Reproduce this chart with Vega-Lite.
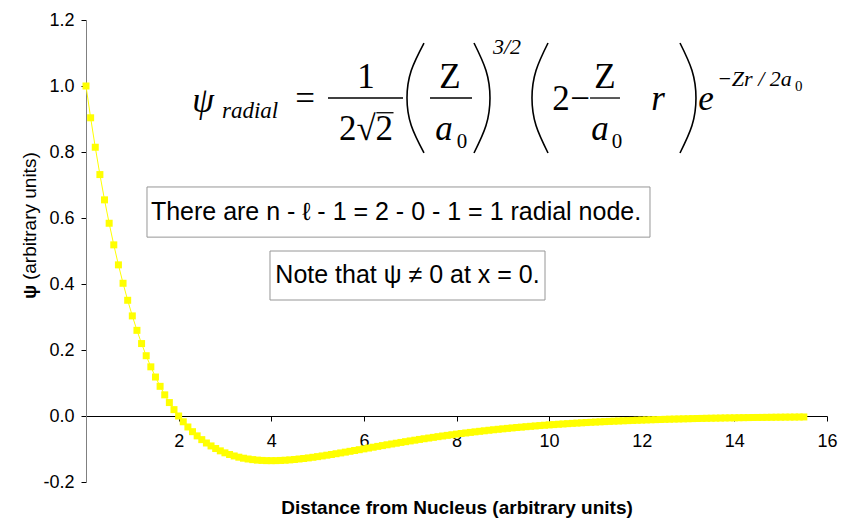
{
  "$schema": "https://vega.github.io/schema/vega-lite/v6.json",
  "width": 741,
  "height": 462,
  "autosize": {"type": "none"},
  "padding": {"left": 86, "top": 20, "right": 15, "bottom": 43},
  "background": "white",
  "config": {
    "view": {"stroke": null},
    "axis": {"labelFont": "Liberation Sans", "titleFont": "Liberation Sans", "labelColor": "#000", "titleColor": "#000", "grid": false}
  },
  "datasets": {
    "curve": [
      {"r":0,"psi":1},{"r":0.1,"psi":0.9037},{"r":0.2,"psi":0.8144},{"r":0.3,"psi":0.7316},{"r":0.4,"psi":0.655},{"r":0.5,"psi":0.5841},{"r":0.6,"psi":0.5186},{"r":0.7,"psi":0.458},{"r":0.8,"psi":0.4022},{"r":0.9,"psi":0.3507},
      {"r":1,"psi":0.3033},{"r":1.1,"psi":0.2596},{"r":1.2,"psi":0.2195},{"r":1.3,"psi":0.1827},{"r":1.4,"psi":0.149},{"r":1.5,"psi":0.1181},{"r":1.6,"psi":0.0899},{"r":1.7,"psi":0.0641},{"r":1.8,"psi":0.0407},{"r":1.9,"psi":0.0193},
      {"r":2,"psi":0},{"r":2.1,"psi":-0.0175},{"r":2.2,"psi":-0.0333},{"r":2.3,"psi":-0.0475},{"r":2.4,"psi":-0.0602},{"r":2.5,"psi":-0.0716},{"r":2.6,"psi":-0.0818},{"r":2.7,"psi":-0.0907},{"r":2.8,"psi":-0.0986},{"r":2.9,"psi":-0.1056},
      {"r":3,"psi":-0.1116},{"r":3.1,"psi":-0.1167},{"r":3.2,"psi":-0.1211},{"r":3.3,"psi":-0.1248},{"r":3.4,"psi":-0.1279},{"r":3.5,"psi":-0.1303},{"r":3.6,"psi":-0.1322},{"r":3.7,"psi":-0.1337},{"r":3.8,"psi":-0.1346},{"r":3.9,"psi":-0.1352},
      {"r":4,"psi":-0.1353},{"r":4.1,"psi":-0.1352},{"r":4.2,"psi":-0.1347},{"r":4.3,"psi":-0.134},{"r":4.4,"psi":-0.133},{"r":4.5,"psi":-0.1318},{"r":4.6,"psi":-0.1303},{"r":4.7,"psi":-0.1288},{"r":4.8,"psi":-0.127},{"r":4.9,"psi":-0.1251},
      {"r":5,"psi":-0.1231},{"r":5.1,"psi":-0.121},{"r":5.2,"psi":-0.1188},{"r":5.3,"psi":-0.1166},{"r":5.4,"psi":-0.1143},{"r":5.5,"psi":-0.1119},{"r":5.6,"psi":-0.1095},{"r":5.7,"psi":-0.107},{"r":5.8,"psi":-0.1045},{"r":5.9,"psi":-0.1021},
      {"r":6,"psi":-0.0996},{"r":6.1,"psi":-0.0971},{"r":6.2,"psi":-0.0946},{"r":6.3,"psi":-0.0921},{"r":6.4,"psi":-0.0897},{"r":6.5,"psi":-0.0872},{"r":6.6,"psi":-0.0848},{"r":6.7,"psi":-0.0825},{"r":6.8,"psi":-0.0801},{"r":6.9,"psi":-0.0778},
      {"r":7,"psi":-0.0755},{"r":7.1,"psi":-0.0733},{"r":7.2,"psi":-0.071},{"r":7.3,"psi":-0.0689},{"r":7.4,"psi":-0.0668},{"r":7.5,"psi":-0.0647},{"r":7.6,"psi":-0.0626},{"r":7.7,"psi":-0.0606},{"r":7.8,"psi":-0.0587},{"r":7.9,"psi":-0.0568},
      {"r":8,"psi":-0.0549},{"r":8.1,"psi":-0.0531},{"r":8.2,"psi":-0.0514},{"r":8.3,"psi":-0.0497},{"r":8.4,"psi":-0.048},{"r":8.5,"psi":-0.0464},{"r":8.6,"psi":-0.0448},{"r":8.7,"psi":-0.0432},{"r":8.8,"psi":-0.0417},{"r":8.9,"psi":-0.0403},
      {"r":9,"psi":-0.0389},{"r":9.1,"psi":-0.0375},{"r":9.2,"psi":-0.0362},{"r":9.3,"psi":-0.0349},{"r":9.4,"psi":-0.0337},{"r":9.5,"psi":-0.0324},{"r":9.6,"psi":-0.0313},{"r":9.7,"psi":-0.0301},{"r":9.8,"psi":-0.029},{"r":9.9,"psi":-0.028},
      {"r":10,"psi":-0.027},{"r":10.1,"psi":-0.026},{"r":10.2,"psi":-0.025},{"r":10.3,"psi":-0.0241},{"r":10.4,"psi":-0.0232},{"r":10.5,"psi":-0.0223},{"r":10.6,"psi":-0.0215},{"r":10.7,"psi":-0.0207},{"r":10.8,"psi":-0.0199},{"r":10.9,"psi":-0.0191},
      {"r":11,"psi":-0.0184},{"r":11.1,"psi":-0.0177},{"r":11.2,"psi":-0.017},{"r":11.3,"psi":-0.0164},{"r":11.4,"psi":-0.0157},{"r":11.5,"psi":-0.0151},{"r":11.6,"psi":-0.0145},{"r":11.7,"psi":-0.014},{"r":11.8,"psi":-0.0134},{"r":11.9,"psi":-0.0129},
      {"r":12,"psi":-0.0124},{"r":12.1,"psi":-0.0119},{"r":12.2,"psi":-0.0114},{"r":12.3,"psi":-0.011},{"r":12.4,"psi":-0.0106},{"r":12.5,"psi":-0.0101},{"r":12.6,"psi":-0.0097},{"r":12.7,"psi":-0.0093},{"r":12.8,"psi":-0.009},{"r":12.9,"psi":-0.0086},
      {"r":13,"psi":-0.0083},{"r":13.1,"psi":-0.0079},{"r":13.2,"psi":-0.0076},{"r":13.3,"psi":-0.0073},{"r":13.4,"psi":-0.007},{"r":13.5,"psi":-0.0067},{"r":13.6,"psi":-0.0065},{"r":13.7,"psi":-0.0062},{"r":13.8,"psi":-0.0059},{"r":13.9,"psi":-0.0057},
      {"r":14,"psi":-0.0055},{"r":14.1,"psi":-0.0052},{"r":14.2,"psi":-0.005},{"r":14.3,"psi":-0.0048},{"r":14.4,"psi":-0.0046},{"r":14.5,"psi":-0.0044},{"r":14.6,"psi":-0.0043},{"r":14.7,"psi":-0.0041},{"r":14.8,"psi":-0.0039},{"r":14.9,"psi":-0.0037},
      {"r":15,"psi":-0.0036},{"r":15.1,"psi":-0.0034},{"r":15.2,"psi":-0.0033},{"r":15.3,"psi":-0.0032},{"r":15.4,"psi":-0.003},{"r":15.5,"psi":-0.0029}
    ],
    "boxes": [
      {"x1": 1.317, "x2": 12.178, "y1": 0.694, "y2": 0.542},
      {"x1": 3.973, "x2": 9.911, "y1": 0.5, "y2": 0.3515}
    ],
    "notes": [
      {"t": "There are n - ℓ - 1 = 2 - 0 - 1 = 1 radial node.", "x": 6.694, "y": 0.618},
      {"t": "Note that ψ ≠ 0 at x = 0.", "x": 6.942, "y": 0.4258}
    ],
    "eqRoman": [
      {"t": "=", "x": 4.729, "y": 0.927},
      {"t": "1", "x": 6.046, "y": 0.994},
      {"t": "2√2", "x": 6.046, "y": 0.836},
      {"t": "Z", "x": 7.86, "y": 0.994},
      {"t": "2", "x": 10.256, "y": 0.927},
      {"t": "−", "x": 10.667, "y": 0.927},
      {"t": "Z", "x": 11.206, "y": 0.994}
    ],
    "eqItalic": [
      {"t": "ψ", "x": 2.53, "y": 0.921},
      {"t": "a", "x": 7.73, "y": 0.836},
      {"t": "a", "x": 11.099, "y": 0.836},
      {"t": "r", "x": 12.351, "y": 0.927},
      {"t": "e", "x": 13.387, "y": 0.927}
    ],
    "eqSub": [
      {"t": "0", "x": 8.119, "y": 0.812},
      {"t": "0", "x": 11.466, "y": 0.812}
    ],
    "eqSubscript": [
      {"t": "radial", "x": 2.937, "y": 0.903}
    ],
    "eqSuper": [
      {"t": "3/2", "x": 8.788, "y": 1.097},
      {"t": "−Zr / 2a", "x": 13.625, "y": 1.0}
    ],
    "eqTiny": [
      {"t": "0", "x": 15.31, "y": 0.985}
    ],
    "bars": [
      {"x1": 5.225, "x2": 6.845, "y": 0.9636},
      {"x1": 7.428, "x2": 8.335, "y": 0.9636},
      {"x1": 10.883, "x2": 11.53, "y": 0.9636},
      {"x1": 6.27, "x2": 6.64, "y": 0.919}
    ],
    "parens": [
      {"id": 1, "k": 0, "x": 7.298, "y": 1.1303}, {"id": 1, "k": 1, "x": 7.023, "y": 1.047}, {"id": 1, "k": 2, "x": 6.931, "y": 0.9636}, {"id": 1, "k": 3, "x": 7.023, "y": 0.88}, {"id": 1, "k": 4, "x": 7.298, "y": 0.797},
      {"id": 2, "k": 0, "x": 8.378, "y": 1.1303}, {"id": 2, "k": 1, "x": 8.637, "y": 1.047}, {"id": 2, "k": 2, "x": 8.723, "y": 0.9636}, {"id": 2, "k": 3, "x": 8.637, "y": 0.88}, {"id": 2, "k": 4, "x": 8.378, "y": 0.797},
      {"id": 3, "k": 0, "x": 9.976, "y": 1.1303}, {"id": 3, "k": 1, "x": 9.717, "y": 1.047}, {"id": 3, "k": 2, "x": 9.63, "y": 0.9636}, {"id": 3, "k": 3, "x": 9.717, "y": 0.88}, {"id": 3, "k": 4, "x": 9.976, "y": 0.797},
      {"id": 4, "k": 0, "x": 12.826, "y": 1.1303}, {"id": 4, "k": 1, "x": 13.085, "y": 1.047}, {"id": 4, "k": 2, "x": 13.171, "y": 0.9636}, {"id": 4, "k": 3, "x": 13.085, "y": 0.88}, {"id": 4, "k": 4, "x": 12.826, "y": 0.797}
    ],
    "yTitle": [
      {"psi": "ψ", "rest": "(arbitrary units)", "x": -1.209, "y1": 0.376, "y2": 0.412}
    ]
  },
  "layer": [
    {
      "data": {"name": "curve"},
      "mark": {"type": "line", "color": "#ffff00", "strokeWidth": 1},
      "encoding": {
        "x": {
          "field": "r", "type": "quantitative",
          "scale": {"domain": [0, 16], "nice": false, "zero": false},
          "axis": {
            "title": "Distance from Nucleus (arbitrary units)",
            "titleFontSize": 19, "titleFontWeight": "bold", "titlePadding": 48,
            "values": [0, 2, 4, 6, 8, 10, 12, 14, 16],
            "format": "d",
            "labelExpr": "datum.value == 0 ? '' : datum.label",
            "labelFontSize": 18, "labelPadding": 11, "labelFlush": false, "labelOverlap": false,
            "offset": -66, "tickSize": 5, "tickColor": "#000", "domainColor": "#000"
          }
        },
        "y": {
          "field": "psi", "type": "quantitative",
          "scale": {"domain": [-0.2, 1.2], "nice": false, "zero": false},
          "axis": {
            "title": null,
            "values": [-0.2, 0, 0.2, 0.4, 0.6, 0.8, 1.0, 1.2],
            "format": ".1f",
            "labelExpr": "replace(datum.label, '−', '-')",
            "labelFontSize": 18, "labelPadding": 7, "labelOverlap": false,
            "tickSize": 5, "tickColor": "#000", "domainColor": "#808080"
          }
        }
      }
    },
    {
      "data": {"name": "curve"},
      "mark": {"type": "point", "shape": "square", "filled": true, "size": 49, "color": "#ffff00", "opacity": 1},
      "encoding": {
        "x": {"field": "r", "type": "quantitative"},
        "y": {"field": "psi", "type": "quantitative"}
      }
    },
    {
      "data": {"name": "boxes"},
      "mark": {"type": "rect", "fill": "white", "stroke": "#969696", "strokeWidth": 1},
      "encoding": {
        "x": {"field": "x1", "type": "quantitative"},
        "x2": {"field": "x2"},
        "y": {"field": "y1", "type": "quantitative"},
        "y2": {"field": "y2"}
      }
    },
    {
      "data": {"name": "notes"},
      "mark": {"type": "text", "font": "Liberation Sans", "fontSize": 25, "color": "#000", "align": "center", "baseline": "middle"},
      "encoding": {
        "x": {"field": "x", "type": "quantitative"},
        "y": {"field": "y", "type": "quantitative"},
        "text": {"field": "t"}
      }
    },
    {
      "data": {"name": "eqRoman"},
      "mark": {"type": "text", "font": "Liberation Serif", "fontSize": 35, "color": "#000", "align": "center", "baseline": "alphabetic"},
      "encoding": {
        "x": {"field": "x", "type": "quantitative"},
        "y": {"field": "y", "type": "quantitative"},
        "text": {"field": "t"}
      }
    },
    {
      "data": {"name": "eqItalic"},
      "mark": {"type": "text", "font": "Liberation Serif", "fontStyle": "italic", "fontSize": 35, "color": "#000", "align": "center", "baseline": "alphabetic"},
      "encoding": {
        "x": {"field": "x", "type": "quantitative"},
        "y": {"field": "y", "type": "quantitative"},
        "text": {"field": "t"}
      }
    },
    {
      "data": {"name": "eqSub"},
      "mark": {"type": "text", "font": "Liberation Serif", "fontSize": 21, "color": "#000", "align": "center", "baseline": "alphabetic"},
      "encoding": {
        "x": {"field": "x", "type": "quantitative"},
        "y": {"field": "y", "type": "quantitative"},
        "text": {"field": "t"}
      }
    },
    {
      "data": {"name": "eqSubscript"},
      "mark": {"type": "text", "font": "Liberation Serif", "fontStyle": "italic", "fontSize": 23, "color": "#000", "align": "left", "baseline": "alphabetic"},
      "encoding": {
        "x": {"field": "x", "type": "quantitative"},
        "y": {"field": "y", "type": "quantitative"},
        "text": {"field": "t"}
      }
    },
    {
      "data": {"name": "eqSuper"},
      "mark": {"type": "text", "font": "Liberation Serif", "fontStyle": "italic", "fontSize": 22, "color": "#000", "align": "left", "baseline": "alphabetic"},
      "encoding": {
        "x": {"field": "x", "type": "quantitative"},
        "y": {"field": "y", "type": "quantitative"},
        "text": {"field": "t"}
      }
    },
    {
      "data": {"name": "eqTiny"},
      "mark": {"type": "text", "font": "Liberation Serif", "fontSize": 15, "color": "#000", "align": "left", "baseline": "alphabetic"},
      "encoding": {
        "x": {"field": "x", "type": "quantitative"},
        "y": {"field": "y", "type": "quantitative"},
        "text": {"field": "t"}
      }
    },
    {
      "data": {"name": "bars"},
      "mark": {"type": "rule", "color": "#000", "strokeWidth": 1.3},
      "encoding": {
        "x": {"field": "x1", "type": "quantitative"},
        "x2": {"field": "x2"},
        "y": {"field": "y", "type": "quantitative"}
      }
    },
    {
      "data": {"name": "parens"},
      "mark": {"type": "line", "color": "#000", "strokeWidth": 1.6, "interpolate": "natural"},
      "encoding": {
        "x": {"field": "x", "type": "quantitative"},
        "y": {"field": "y", "type": "quantitative"},
        "detail": {"field": "id"},
        "order": {"field": "k"}
      }
    },
    {
      "data": {"name": "yTitle"},
      "mark": {"type": "text", "font": "Liberation Sans", "fontSize": 19, "fontWeight": "bold", "color": "#000", "angle": 270, "align": "center", "baseline": "middle"},
      "encoding": {
        "x": {"field": "x", "type": "quantitative"},
        "y": {"field": "y1", "type": "quantitative"},
        "text": {"field": "psi"}
      }
    },
    {
      "data": {"name": "yTitle"},
      "mark": {"type": "text", "font": "Liberation Sans", "fontSize": 19, "color": "#000", "angle": 270, "align": "left", "baseline": "middle"},
      "encoding": {
        "x": {"field": "x", "type": "quantitative"},
        "y": {"field": "y2", "type": "quantitative"},
        "text": {"field": "rest"}
      }
    }
  ]
}
